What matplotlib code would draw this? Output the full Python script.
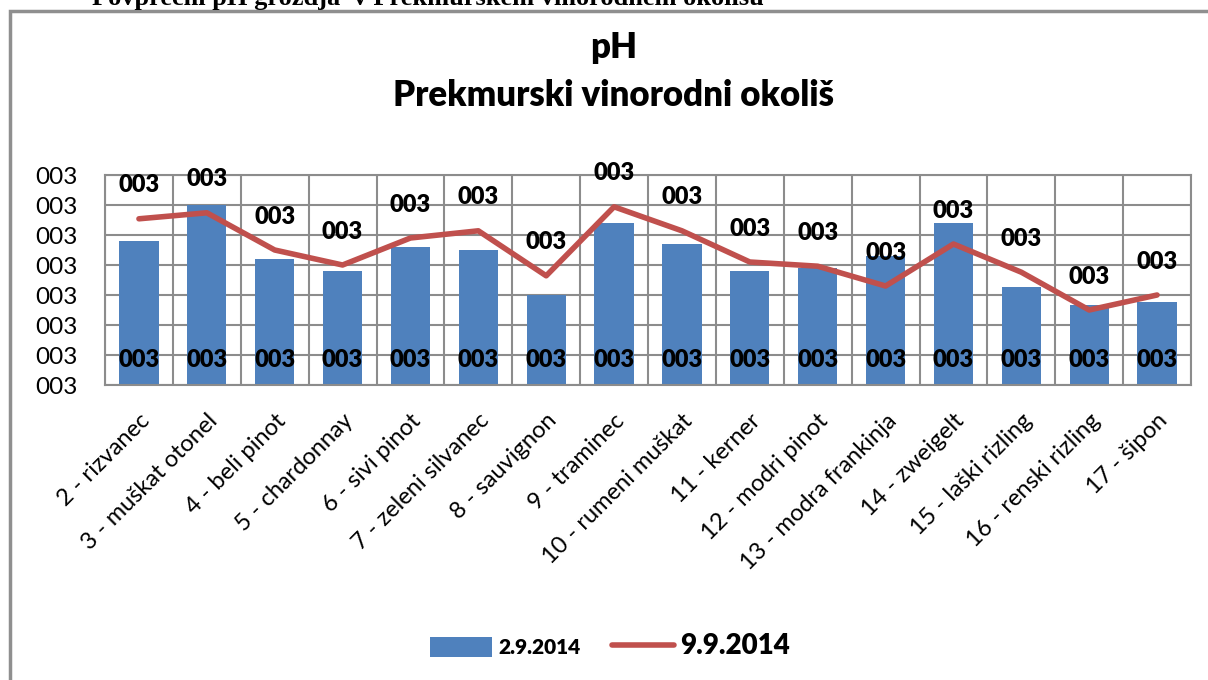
import matplotlib.pyplot as plt
import numpy as np
from matplotlib.patches import Rectangle
from matplotlib.ticker import FuncFormatter

# sorte (kategorije na osi x)
sorte = ["2 - rizvanec", "3 - muškat otonel", "4 - beli pinot", "5 - chardonnay",
         "6 - sivi pinot", "7 - zeleni silvanec", "8 - sauvignon", "9 - traminec",
         "10 - rumeni muškat", "11 - kerner", "12 - modri pinot", "13 - modra frankinja",
         "14 - zweigelt", "15 - laški rizling", "16 - renski rizling", "17 - šipon"]

# pH po datumih vzorčenja
ph_0209 = [3.24, 3.30, 3.21, 3.19, 3.23, 3.225, 3.15, 3.27,
           3.235, 3.19, 3.195, 3.215, 3.27, 3.163, 3.133, 3.138]
ph_0909 = [3.277, 3.287, 3.225, 3.20, 3.245, 3.257, 3.182, 3.297,
           3.257, 3.205, 3.198, 3.165, 3.235, 3.188, 3.125, 3.15]

bar_col = "#4f81bd"
line_col = "#c0504d"
grid_col = "#8c8c8c"

plt.rcParams["font.family"] = ["Lato", "DejaVu Sans"]

fig = plt.figure(figsize=(12.08, 6.8), dpi=100)

# okvir grafikona
fig.patches.append(Rectangle((10 / 1208, -0.05), 1.2, 1 - 11 / 680 + 0.05,
                             transform=fig.transFigure, fill=False,
                             edgecolor="#8f8f8f", linewidth=2.5))

# odrezan naslov nad okvirjem
fig.text(92 / 1208, 1 - 5 / 680, "Povprečni pH grozdja  v Prekmurskem vinorodnem okolišu",
         family="Liberation Serif", fontweight="bold", fontsize=19,
         ha="left", va="baseline")

ax = fig.add_axes([105 / 1208, 295 / 680, 1086 / 1208, 210 / 680])
x = np.arange(len(sorte))

bars = ax.bar(x, ph_0209, width=0.58, color=bar_col, label="2.9.2014", zorder=2)
line, = ax.plot(x, ph_0909, color=line_col, linewidth=4, solid_capstyle="round",
                label="9.9.2014", zorder=3)

ax.set_ylim(3.0, 3.35)
ax.set_yticks(np.arange(3.0, 3.351, 0.05))
ax.yaxis.set_major_formatter(FuncFormatter(lambda v, p: "{:03.0f}".format(v)))
ax.set_xlim(-0.5, len(sorte) - 0.5)
ax.set_xticks(x)
ax.set_xticklabels(sorte, rotation=45, ha="right", rotation_mode="anchor")
ax.set_xticks(np.arange(-0.5, len(sorte), 1.0), minor=True)

ax.tick_params(axis="y", length=0, pad=20, labelsize=17.5)
ax.tick_params(axis="x", which="both", length=0, pad=18, labelsize=17)
ax.grid(axis="y", which="major", color=grid_col, linewidth=1.5, zorder=0)
ax.grid(axis="x", which="minor", color=grid_col, linewidth=1.5, zorder=0)
ax.set_axisbelow(True)
for s in ax.spines.values():
    s.set_color(grid_col)
    s.set_linewidth(1.5)

# oznake vrednosti
for i in range(len(sorte)):
    ax.annotate("{:03.0f}".format(ph_0209[i]), (x[i], 3.0), xytext=(0, 18),
                textcoords="offset points", ha="center", va="center",
                fontsize=17, fontweight="heavy", zorder=4)
    ax.annotate("{:03.0f}".format(ph_0909[i]), (x[i], ph_0909[i]), xytext=(0, 24),
                textcoords="offset points", ha="center", va="center",
                fontsize=17, fontweight="heavy", zorder=4)

fig.text(0.508, 1 - 48 / 680, "pH", ha="center", va="center",
         fontsize=25, fontweight="heavy")
fig.text(0.508, 1 - 95 / 680, "Prekmurski vinorodni okoliš", ha="center", va="center",
         fontsize=25, fontweight="heavy")

leg = fig.legend([bars, line], ["2.9.2014", "9.9.2014"], loc="center",
                 bbox_to_anchor=(610 / 1208, 1 - 646 / 680), ncol=2,
                 frameon=False, handlelength=3.0, handleheight=1.1,
                 handletextpad=0.3, columnspacing=1.5,
                 prop={"weight": "heavy", "size": 15})
leg.get_texts()[1].set_fontsize(20)

fig.savefig("out.png", dpi=100)
